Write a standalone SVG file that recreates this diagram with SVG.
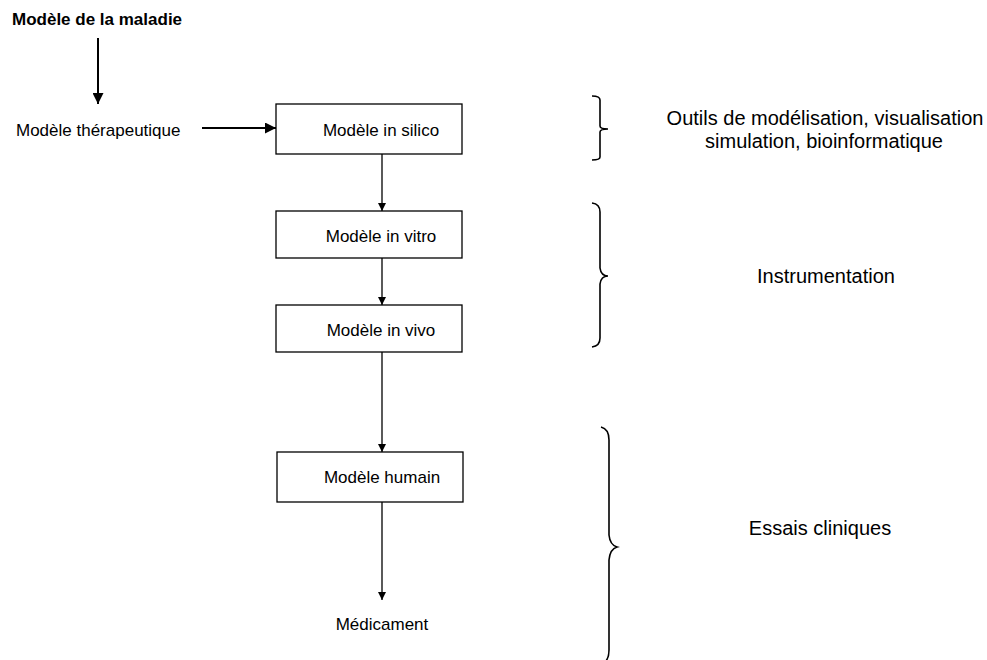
<svg xmlns="http://www.w3.org/2000/svg" width="987" height="660" viewBox="0 0 987 660">
  <defs>
    <marker id="arrow" viewBox="0 0 10 10" refX="10" refY="5" markerWidth="9" markerHeight="8" markerUnits="userSpaceOnUse" orient="auto">
      <path d="M0,0 L10,5 L0,10 z" fill="#000"/>
    </marker>
    <marker id="arrowBig" viewBox="0 0 10 10" refX="10" refY="5" markerWidth="12" markerHeight="11" markerUnits="userSpaceOnUse" orient="auto">
      <path d="M0,0 L10,5 L0,10 z" fill="#000"/>
    </marker>
  </defs>
  <style>
    text { font-family: "Liberation Sans", Arial, sans-serif; fill: #000; }
    .lbl { font-size: 17px; }
    .title { font-size: 17px; font-weight: bold; }
    .side { font-size: 20px; }
    .box { fill: #fff; stroke: #000; stroke-width: 1.3; }
    .link { stroke: #000; stroke-width: 1.3; fill: none; marker-end: url(#arrow); }
    .link-bold { stroke: #000; stroke-width: 2; fill: none; marker-end: url(#arrowBig); }
    .brace { stroke: #000; stroke-width: 1.6; fill: none; }
  </style>
  <rect width="987" height="660" fill="#fff"/>

  <!-- connectors -->
  <g id="connectors">
    <line class="link-bold" x1="98" y1="38" x2="98" y2="104"/>
    <line class="link-bold" x1="202" y1="128" x2="276" y2="128"/>
    <line class="link" x1="382" y1="154" x2="382" y2="211"/>
    <line class="link" x1="382" y1="258" x2="382" y2="305"/>
    <line class="link" x1="382" y1="352" x2="382" y2="452"/>
    <line class="link" x1="382" y1="502" x2="382" y2="600"/>
  </g>

  <!-- nodes -->
  <g id="maladie">
    <text class="title" x="12" y="25">Modèle de la maladie</text>
  </g>
  <g id="therapeutique">
    <text class="lbl" x="16" y="136">Modèle thérapeutique</text>
  </g>
  <g id="silico">
    <rect class="box" x="276" y="104" width="186" height="50"/>
    <text class="lbl" x="381" y="136" text-anchor="middle">Modèle in silico</text>
  </g>
  <g id="vitro">
    <rect class="box" x="276" y="211" width="186" height="47"/>
    <text class="lbl" x="381" y="242" text-anchor="middle">Modèle in vitro</text>
  </g>
  <g id="vivo">
    <rect class="box" x="276" y="305" width="186" height="47"/>
    <text class="lbl" x="381" y="336" text-anchor="middle">Modèle in vivo</text>
  </g>
  <g id="humain">
    <rect class="box" x="277" y="452" width="186" height="50"/>
    <text class="lbl" x="382" y="483" text-anchor="middle">Modèle humain</text>
  </g>
  <g id="medicament">
    <text class="lbl" x="382" y="630" text-anchor="middle">Médicament</text>
  </g>

  <!-- braces grouping the stages -->
  <g id="brace-outils">
    <path class="brace" d="M592,96 Q600,96 600,100 L600,126 Q600,129 608,129 Q600,129 600,132 L600,157 Q600,160 592,160"/>
    <text class="side" x="825" y="125" text-anchor="middle">Outils de modélisation, visualisation</text>
    <text class="side" x="824" y="148" text-anchor="middle">simulation, bioinformatique</text>
  </g>
  <g id="brace-instrumentation">
    <path class="brace" d="M592,203 Q600,204 600,212 L600,268 Q601,276 608,276 Q601,276 600,284 L600,338 Q600,346 592,347"/>
    <text class="side" x="826" y="283" text-anchor="middle">Instrumentation</text>
  </g>
  <g id="brace-essais">
    <path class="brace" d="M601,427 Q609,429 609,440 L609,535 Q610,545 617,547 Q610,549 609,560 L609,650 Q609,657 606,661"/>
    <text class="side" x="820" y="535" text-anchor="middle">Essais cliniques</text>
  </g>
</svg>
